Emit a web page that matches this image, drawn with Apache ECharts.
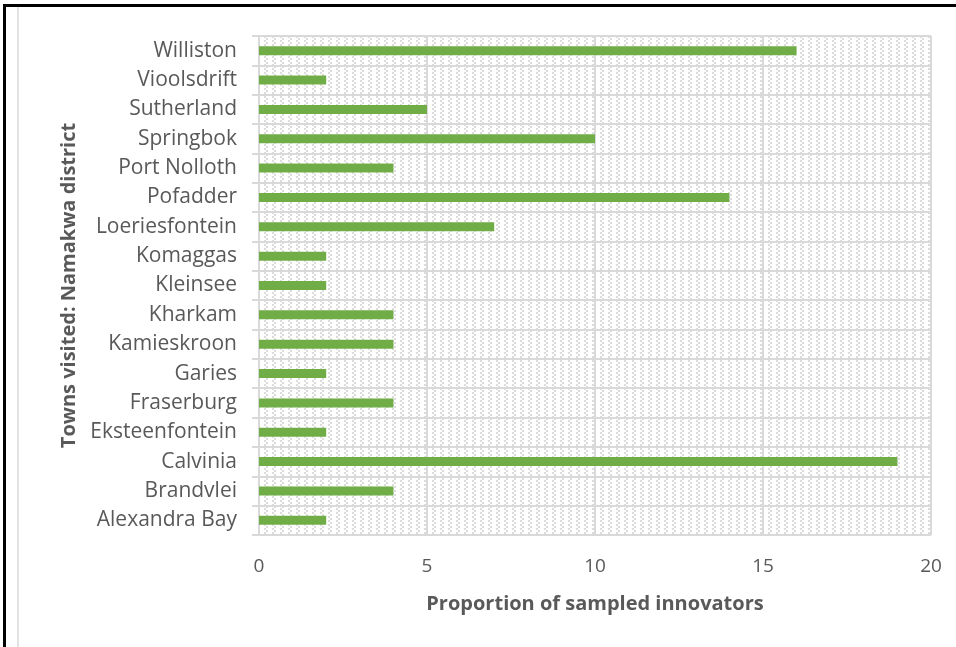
<!DOCTYPE html>
<html>
<head>
<meta charset="utf-8">
<script src="https://cdn.jsdelivr.net/npm/echarts@6/dist/echarts.min.js"></script>
<style>
  html, body { margin: 0; padding: 0; background: #ffffff; }
  #chart { width: 956px; height: 647px; }
</style>
</head>
<body>
<div id="chart"></div>
<script>
// Towns visited in the Namakwa district, bottom to top
const towns = [
  'Alexandra Bay', 'Brandvlei', 'Calvinia', 'Eksteenfontein', 'Fraserburg',
  'Garies', 'Kamieskroon', 'Kharkam', 'Kleinsee', 'Komaggas',
  'Loeriesfontein', 'Pofadder', 'Port Nolloth', 'Springbok', 'Sutherland',
  'Vioolsdrift', 'Williston'
];
// Proportion of sampled innovators per town
const proportions = [2, 4, 19, 2, 4, 2, 4, 4, 2, 2, 7, 14, 4, 10, 5, 2, 16];
const xTicks = [0, 5, 10, 15, 20];

// Staggered diagonal dashes used as the plot-area fill
function hatchPattern() {
  const c = document.createElement('canvas');
  c.width = 8; c.height = 8;
  const g = c.getContext('2d');
  g.fillStyle = '#ffffff';
  g.fillRect(0, 0, 8, 8);
  g.fillStyle = '#dcdcdc';
  [[0, 0], [2, 2], [0, 4], [2, 6]].forEach(function (p) {
    g.fillRect(p[0], p[1], 2, 2);
  });
  return c;
}

const chart = echarts.init(document.getElementById('chart'), null, { renderer: 'canvas' });
const font = '"Open Sans", sans-serif';
const textColor = '#595959';
const gridColor = '#d9d9d9';

chart.setOption({
  animation: false,
  backgroundColor: '#ffffff',
  textStyle: { fontFamily: font },
  grid: {
    left: 259, right: 25, top: 36, bottom: 112,
    show: true,
    borderWidth: 0,
    backgroundColor: { image: hatchPattern(), repeat: 'repeat' }
  },
  xAxis: {
    type: 'value',
    min: xTicks[0],
    max: xTicks[xTicks.length - 1],
    interval: 5,
    name: 'Proportion of sampled innovators',
    nameLocation: 'middle',
    nameGap: 59,
    nameTextStyle: { fontFamily: font, fontSize: 20, fontWeight: 'bold', color: textColor },
    axisLine: { show: false },
    axisTick: { show: false },
    axisLabel: { fontFamily: font, fontSize: 19, color: textColor, margin: 22 },
    splitLine: { show: true, lineStyle: { color: gridColor, width: 2 } }
  },
  yAxis: {
    type: 'category',
    data: towns,
    name: 'Towns visited: Namakwa district',
    nameLocation: 'middle',
    nameGap: 180,
    nameTextStyle: { fontFamily: font, fontSize: 20, fontWeight: 'bold', color: textColor },
    axisLine: { show: true, lineStyle: { color: gridColor, width: 2 } },
    axisTick: { show: true, length: 7, lineStyle: { color: gridColor, width: 2 } },
    axisLabel: { fontFamily: font, fontSize: 21, color: textColor, margin: 22 },
    splitLine: { show: true, lineStyle: { color: gridColor, width: 2 } }
  },
  series: [{
    type: 'bar',
    data: proportions,
    barWidth: 9,
    itemStyle: { color: '#70ad47' }
  }],
  graphic: [
    // outer frame: black top and left edges, light inner rule
    { type: 'rect', shape: { x: 3, y: 4, width: 960, height: 3 }, style: { fill: '#000000' } },
    { type: 'rect', shape: { x: 3, y: 4, width: 3, height: 650 }, style: { fill: '#000000' } },
    { type: 'rect', shape: { x: 17, y: 7, width: 2, height: 650 }, style: { fill: '#e3e3e3' } }
  ]
});
</script>
</body>
</html>
